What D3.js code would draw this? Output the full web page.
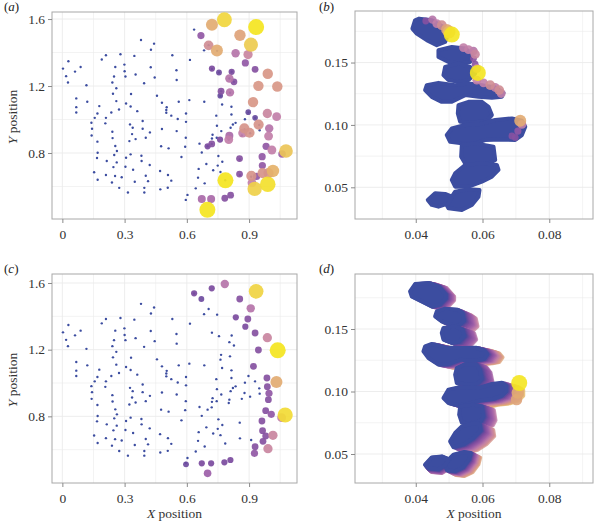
<!DOCTYPE html>
<html><head><meta charset="utf-8">
<script src="https://cdn.jsdelivr.net/npm/d3@7"></script>
<style>body{margin:0;background:#fff}svg{display:block}</style>
</head><body>
<svg id="chart" width="595" height="521"></svg>
<script>
// ---------- data: panels (a) and (c), particle positions ----------
const basePts = [
[0.379,1.475],[0.442,1.453],[0.427,1.417],[0.530,1.384],[0.029,1.348],[0.003,1.304],[0.018,1.259],[0.027,1.221],[0.061,1.286],[0.088,1.314],[0.116,1.205],[0.190,1.358],[0.210,1.384],[0.280,1.390],[0.347,1.380],[0.255,1.314],[0.299,1.328],[0.300,1.288],[0.304,1.257],[0.249,1.257],[0.241,1.221],[0.260,1.187],[0.244,1.154],[0.353,1.269],[0.394,1.217],[0.426,1.312],[0.445,1.251],[0.551,1.236],[0.331,1.152],
[0.067,1.126],[0.120,1.106],[0.067,1.074],[0.067,1.042],[0.178,1.080],[0.169,1.036],[0.260,1.110],[0.273,1.060],[0.307,1.096],[0.329,1.078],[0.361,1.050],[0.236,1.042],[0.456,1.142],[0.480,1.100],[0.503,1.073],[0.501,1.057],[0.501,1.040],[0.525,1.023],
[0.156,1.010],[0.210,1.010],[0.140,0.981],[0.207,0.977],[0.143,0.945],[0.141,0.905],[0.169,0.868],[0.326,0.971],[0.339,0.951],[0.387,0.991],[0.387,0.945],[0.480,0.943],[0.336,0.913],[0.241,0.927],[0.242,0.889],[0.323,0.871],[0.353,0.883],[0.402,0.891],[0.422,0.923],[0.255,0.842],[0.263,0.812],[0.250,0.788],[0.170,0.802],[0.167,0.770],[0.214,0.752],[0.246,0.716],[0.262,0.744],[0.307,0.772],[0.329,0.792],[0.381,0.784],[0.382,0.752],[0.421,0.728],[0.476,0.840],[0.512,0.828],[0.341,0.700],[0.304,0.718],[0.153,0.685],[0.210,0.669],[0.254,0.663],[0.286,0.655],[0.170,0.640],[0.239,0.624],[0.274,0.592],[0.316,0.564],[0.349,0.628],[0.402,0.664],[0.413,0.632],[0.395,0.592],[0.395,0.564],[0.471,0.693],[0.472,0.583],[0.509,0.669],[0.525,0.635],[0.508,0.593],
[0.635,1.537],[0.683,1.413],[0.615,1.356],[0.550,1.294],[0.561,1.106],[0.612,1.116],[0.684,1.106],[0.596,1.036],[0.770,1.090],[0.815,1.076],[0.742,1.023],
[0.705,1.444],[0.746,1.410],[0.721,1.302],[0.755,1.281],[0.816,1.285],[0.805,1.245],[0.827,1.225],[0.765,1.169],[0.762,1.140],[0.808,1.160],[0.897,1.042],
[0.556,1.003],[0.551,0.931],[0.595,0.891],[0.574,0.776],[0.596,0.986],[0.592,0.837],[0.661,0.856],[0.672,0.803],[0.815,1.030],[0.835,0.980],[0.822,0.970],[0.811,0.951],[0.745,0.963],[0.766,0.931],[0.724,0.909],[0.721,0.887],[0.744,0.891],[0.752,0.782],[0.771,0.748],[0.749,0.725],[0.694,0.734],[0.727,0.697],[0.762,0.687],[0.657,0.705],[0.654,0.653],[0.686,0.619],[0.643,0.589],[0.603,0.550],[0.595,0.520],[0.700,0.840],[0.720,0.854],
[0.855,0.762],[0.856,0.668],[0.910,0.658],[0.929,1.010],[0.949,0.968],[0.951,0.936],[0.905,0.918],[0.878,0.940],[0.865,0.905],[0.880,1.002],[0.805,0.900],[0.802,0.880],[0.785,0.637]
];
// highlighted particles [x, y, value] in panel (a)
const hotA = [
[0.781,1.596,0.93],[0.721,1.566,0.75],[0.934,1.552,1.0],[0.856,1.503,0.7],[0.909,1.447,0.88],[0.705,1.443,0.55],[0.745,1.412,0.75],
[0.990,1.273,0.62],[0.945,1.201,0.62],[1.036,1.197,0.62],[0.919,1.104,0.62],[0.988,1.036,0.5],[1.033,1.017,0.45],
[0.721,1.304,0.15],[0.755,1.281,0.12],[0.816,1.285,0.15],[0.827,1.225,0.2],[0.765,1.169,0.2],[0.761,1.142,0.1],[0.896,1.044,0.1],
[0.929,1.300,0.2],[0.882,1.338,0.25],[0.668,1.501,0.25],[0.805,1.245,0.4],[0.808,1.162,0.4],[0.835,1.396,0.4],[0.895,1.388,0.5],
[0.720,0.854,0.2],[0.760,0.880,0.15],[0.805,0.903,0.35],[0.802,0.880,0.45],[0.854,0.767,0.2],[0.854,0.674,0.2],[0.783,0.530,0.2],
[0.811,0.548,0.2],[0.672,0.526,0.35],[0.717,0.526,0.35],[0.700,0.840,0.15],[0.982,0.840,0.25],[0.963,0.778,0.25],[0.964,0.725,0.25],
[1.059,0.794,0.3],[0.936,0.660,0.25],[0.914,0.622,0.45],[0.929,1.010,0.1],[0.997,0.947,0.4],[0.994,0.901,0.45],[1.010,0.818,0.45],
[0.946,0.970,0.6],[0.877,0.947,0.6],[0.902,0.921,0.6],[0.869,0.919,0.45],[0.911,0.663,0.6],[0.965,0.680,0.6],[0.994,0.680,0.6],
[1.015,0.693,0.78],[0.786,0.637,1.0],[0.699,0.461,1.0],[0.927,0.586,0.9],[0.990,0.614,0.97],[1.078,0.812,0.85]
];
// highlighted particles [x, y, value] in panel (c)
const hotC = [
[0.783,1.594,0.4],[0.934,1.550,0.92],[0.720,1.568,0.15],[0.635,1.538,0.15],[0.670,1.504,0.12],[0.855,1.504,0.2],[0.908,1.448,0.4],
[0.836,1.394,0.15],[0.894,1.384,0.2],[0.882,1.338,0.15],[0.929,1.300,0.2],[0.988,1.272,0.5],[0.945,1.198,0.2],[1.038,1.196,1.0],
[0.921,1.100,0.2],[0.986,1.030,0.2],[1.032,1.006,0.75],[0.988,0.978,0.2],[0.996,0.938,0.25],[0.993,0.900,0.2],[1.057,0.792,0.45],
[1.074,0.808,0.95],[0.980,0.834,0.2],[1.007,0.812,0.25],[0.962,0.772,0.2],[0.965,0.714,0.2],[1.015,0.686,0.5],[0.980,0.682,0.2],
[0.967,0.650,0.2],[0.991,0.606,0.5],[0.929,0.618,0.2],[0.926,0.578,0.25],[0.781,0.524,0.15],[0.810,0.538,0.15],[0.717,0.518,0.15],
[0.672,0.518,0.15],[0.700,0.458,0.3],[0.596,0.512,0.12]
];
// ---------- data: panels (b) and (d), cell outlines ----------
const blobsB = [
[[0.0398,0.1839],[0.0410,0.1852],[0.0448,0.1839],[0.0483,0.1785],[0.0498,0.1732],[0.0488,0.1665],[0.0463,0.1639],[0.0433,0.1679],[0.0403,0.1732],[0.0390,0.1772]],
[[0.0468,0.1599],[0.0508,0.1625],[0.0548,0.1612],[0.0568,0.1572],[0.0563,0.1505],[0.0533,0.1492],[0.0498,0.1505],[0.0468,0.1545]],
[[0.0488,0.1465],[0.0528,0.1492],[0.0563,0.1465],[0.0578,0.1412],[0.0558,0.1359],[0.0528,0.1345],[0.0498,0.1359],[0.0483,0.1399]],
[[0.0433,0.1319],[0.0468,0.1337],[0.0518,0.1319],[0.0558,0.1332],[0.0598,0.1319],[0.0638,0.1300],[0.0663,0.1257],[0.0658,0.1225],[0.0628,0.1217],[0.0588,0.1225],[0.0548,0.1239],[0.0508,0.1185],[0.0478,0.1185],[0.0448,0.1225],[0.0428,0.1279]],
[[0.0528,0.1159],[0.0558,0.1185],[0.0598,0.1185],[0.0618,0.1145],[0.0628,0.1079],[0.0613,0.1033],[0.0568,0.1017],[0.0533,0.1025],[0.0526,0.1092]],
[[0.0508,0.0972],[0.0548,0.0999],[0.0593,0.1007],[0.0638,0.1039],[0.0688,0.1052],[0.0718,0.1033],[0.0728,0.0985],[0.0718,0.0919],[0.0698,0.0879],[0.0658,0.0884],[0.0608,0.0879],[0.0578,0.0852],[0.0538,0.0852],[0.0503,0.0865],[0.0493,0.0919]],
[[0.0538,0.0839],[0.0578,0.0852],[0.0633,0.0825],[0.0638,0.0719],[0.0618,0.0692],[0.0548,0.0692],[0.0536,0.0745]],
[[0.0548,0.0679],[0.0598,0.0692],[0.0643,0.0679],[0.0648,0.0639],[0.0628,0.0585],[0.0598,0.0545],[0.0558,0.0505],[0.0518,0.0505],[0.0508,0.0559],[0.0518,0.0612]],
[[0.0518,0.0465],[0.0558,0.0484],[0.0591,0.0479],[0.0588,0.0425],[0.0568,0.0359],[0.0538,0.0319],[0.0498,0.0332],[0.0490,0.0372],[0.0508,0.0425]],
[[0.0436,0.0399],[0.0458,0.0452],[0.0488,0.0447],[0.0508,0.0425],[0.0498,0.0372],[0.0468,0.0345],[0.0448,0.0359]]
];
const hotB = [
[0.0430,0.1833,0.2],[0.0450,0.1844,0.4],[0.0463,0.1812,0.45],[0.0478,0.1799,0.55],[0.0493,0.1764,0.7],[0.0500,0.1745,0.8],[0.0508,0.1724,1.0],
[0.0543,0.1620,0.45],[0.0558,0.1604,0.45],[0.0573,0.1593,0.4],[0.0578,0.1567,0.5],[0.0573,0.1532,0.2],
[0.0578,0.1487,0.2],[0.0583,0.1452,0.45],[0.0586,0.1417,1.0],
[0.0583,0.1359,0.45],[0.0603,0.1337,0.45],[0.0623,0.1319,0.55],[0.0638,0.1300,0.45],[0.0650,0.1279,0.55],[0.0656,0.1252,0.45],
[0.0688,0.0911,0.2],[0.0698,0.0900,0.2],[0.0706,0.0951,0.25],[0.0718,0.1004,0.45],[0.0713,0.1033,0.75]
];
const blobsD = [
[[0.0383,0.1801],[0.0398,0.1860],[0.0438,0.1868],[0.0468,0.1841],[0.0490,0.1775],[0.0490,0.1745],[0.0472,0.1695],[0.0448,0.1680],[0.0418,0.1721],[0.0388,0.1761]],
[[0.0463,0.1641],[0.0488,0.1663],[0.0525,0.1655],[0.0540,0.1628],[0.0545,0.1565],[0.0530,0.1530],[0.0508,0.1535],[0.0478,0.1561],[0.0458,0.1601]],
[[0.0483,0.1508],[0.0518,0.1521],[0.0540,0.1495],[0.0546,0.1445],[0.0530,0.1398],[0.0508,0.1390],[0.0483,0.1415],[0.0478,0.1468]],
[[0.0428,0.1361],[0.0448,0.1380],[0.0488,0.1353],[0.0538,0.1348],[0.0580,0.1350],[0.0605,0.1330],[0.0615,0.1298],[0.0605,0.1260],[0.0585,0.1250],[0.0560,0.1245],[0.0535,0.1255],[0.0498,0.1218],[0.0468,0.1215],[0.0438,0.1268],[0.0423,0.1321]],
[[0.0523,0.1188],[0.0548,0.1220],[0.0580,0.1218],[0.0592,0.1175],[0.0598,0.1100],[0.0585,0.1062],[0.0556,0.1055],[0.0523,0.1068],[0.0518,0.1135]],
[[0.0498,0.1015],[0.0528,0.1033],[0.0588,0.1028],[0.0628,0.1060],[0.0658,0.1070],[0.0672,0.1045],[0.0672,0.1001],[0.0658,0.0965],[0.0632,0.0940],[0.0595,0.0928],[0.0558,0.0903],[0.0528,0.0888],[0.0498,0.0908],[0.0483,0.0948]],
[[0.0533,0.0881],[0.0572,0.0895],[0.0598,0.0881],[0.0603,0.0800],[0.0595,0.0760],[0.0558,0.0745],[0.0538,0.0752],[0.0530,0.0815]],
[[0.0538,0.0721],[0.0577,0.0748],[0.0592,0.0738],[0.0595,0.0688],[0.0572,0.0625],[0.0545,0.0578],[0.0513,0.0555],[0.0503,0.0601],[0.0518,0.0668]],
[[0.0513,0.0495],[0.0545,0.0516],[0.0565,0.0508],[0.0560,0.0455],[0.0542,0.0392],[0.0518,0.0362],[0.0493,0.0370],[0.0488,0.0415],[0.0503,0.0468]],
[[0.0428,0.0415],[0.0448,0.0473],[0.0478,0.0481],[0.0498,0.0460],[0.0488,0.0410],[0.0468,0.0378],[0.0438,0.0386]]
];
// trail for each cell in (d): [dx, dy, max value]
const trailsD = [
[0.0025,-0.0015,0.45],[0.0040,-0.0045,0.5],[0.0035,-0.0030,0.4],[0.0045,-0.0025,0.7],[0.0032,-0.0025,0.35],
[0.0050,-0.0035,0.8],[0.0036,-0.0030,0.45],[0.0040,-0.0045,0.6],[0.0028,-0.0038,0.7],[0.0010,-0.0030,0.4]
];
const hotD = [[0.0702,0.0935,0.7],[0.0705,0.0990,0.75],[0.0710,0.1068,1.0]];

// ---------- axes ----------
const ticksAX = [0, 0.3, 0.6, 0.9], labelsAX = ["0", "0.3", "0.6", "0.9"];
const ticksAY = [0.8, 1.2, 1.6], labelsAY = ["0.8", "1.2", "1.6"];
const minorAX = [0.15, 0.45, 0.75, 1.05], minorAY = [0.6, 1.0, 1.4];
const ticksBX = [0.04, 0.06, 0.08], labelsBX = ["0.04", "0.06", "0.08"];
const ticksBY = [0.05, 0.10, 0.15], labelsBY = ["0.05", "0.10", "0.15"];
const minorBX = [0.03, 0.05, 0.07, 0.09], minorBY = [0.075, 0.125, 0.175];

const svg = d3.select("#chart");
const FONT = "'Liberation Serif','Times New Roman',serif";
const colorScale = d3.scaleLinear()
  .domain([0, 0.15, 0.3, 0.45, 0.6, 0.75, 0.9, 1])
  .range(["#3b4a9c", "#7b4b9e", "#9c5ea8", "#c27fa9", "#d6948a", "#e2ab72", "#efd04a", "#f4e520"]);
const rScale = d3.scaleLinear().domain([0, 0.1, 0.2, 0.4, 0.6, 0.75, 1])
  .range([1.2, 2.8, 3.4, 4.2, 5.1, 6, 8]).clamp(true);
const BLUE = "#3c4da0";

function panel(id, box, xDom, yDom, xt, xl, yt, yl, xm, ym) {
  const x = d3.scaleLinear().domain(xDom).range([box.l, box.r]);
  const y = d3.scaleLinear().domain(yDom).range([box.b, box.t]);
  const g = svg.append("g");
  g.append("clipPath").attr("id", "clip" + id).append("rect")
    .attr("x", box.l).attr("y", box.t).attr("width", box.r - box.l).attr("height", box.b - box.t);
  const grid = g.append("g").attr("stroke", "#ebebeb");
  grid.selectAll(".vx").data(xm.concat(xt)).join("line")
    .attr("x1", d => x(d)).attr("x2", d => x(d)).attr("y1", box.t).attr("y2", box.b)
    .attr("stroke-width", (d, i) => i < xm.length ? 0.6 : 0.9);
  grid.selectAll(".hy").data(ym.concat(yt)).join("line")
    .attr("y1", d => y(d)).attr("y2", d => y(d)).attr("x1", box.l).attr("x2", box.r)
    .attr("stroke-width", (d, i) => i < ym.length ? 0.6 : 0.9);
  g.append("rect").attr("x", box.l).attr("y", box.t).attr("width", box.r - box.l).attr("height", box.b - box.t)
    .attr("fill", "none").attr("stroke", "#a8a8a8").attr("stroke-width", 1);
  const ax = g.append("g").attr("transform", `translate(0,${box.b})`)
    .call(d3.axisBottom(x).tickValues(xt).tickFormat((d, i) => xl[i]).tickSize(4).tickPadding(6));
  const ay = g.append("g").attr("transform", `translate(${box.l},0)`)
    .call(d3.axisLeft(y).tickValues(yt).tickFormat((d, i) => yl[i]).tickSize(4).tickPadding(3));
  [ax, ay].forEach(a => {
    a.select(".domain").remove();
    a.selectAll(".tick line").attr("stroke", "#8a8a8a");
    a.selectAll(".tick text").attr("font-family", FONT).attr("font-size", 13.5).attr("fill", "#333");
  });
  const plot = g.append("g").attr("clip-path", `url(#clip${id})`);
  return {x, y, plot};
}

function label(txt, px, py) {
  const t = svg.append("text").attr("x", px).attr("y", py).attr("font-family", FONT).attr("font-size", 13).attr("fill", "#222");
  t.append("tspan").text("(");
  t.append("tspan").attr("font-style", "italic").text(txt);
  t.append("tspan").text(")");
}
function yTitle(cy) {
  const t = svg.append("text").attr("transform", `translate(17,${cy}) rotate(-90)`).attr("text-anchor", "middle")
    .attr("font-family", FONT).attr("font-size", 13.5).attr("fill", "#333");
  t.append("tspan").attr("font-style", "italic").text("Y");
  t.append("tspan").text(" position");
}
function xTitle(cx) {
  const t = svg.append("text").attr("x", cx).attr("y", 518).attr("text-anchor", "middle")
    .attr("font-family", FONT).attr("font-size", 13.5).attr("fill", "#333");
  t.append("tspan").attr("font-style", "italic").text("X");
  t.append("tspan").text(" position");
}

function scatter(p, hot) {
  p.plot.append("g").selectAll("circle").data(basePts).join("circle")
    .attr("cx", d => p.x(d[0])).attr("cy", d => p.y(d[1])).attr("r", rScale(0)).attr("fill", BLUE);
  const h = hot.slice().sort((a, b) => a[2] - b[2]);
  p.plot.append("g").selectAll("circle").data(h).join("circle")
    .attr("cx", d => p.x(d[0])).attr("cy", d => p.y(d[1])).attr("r", d => rScale(d[2]))
    .attr("fill", d => colorScale(d[2])).attr("fill-opacity", 0.92);
}

function cells(p, blobs, trails, hot) {
  const line = d3.line().x(d => p.x(d[0])).y(d => p.y(d[1])).curve(d3.curveLinearClosed);
  if (trails) {
    const N = 12;
    blobs.forEach((b, i) => {
      const tr = trails[i];
      for (let k = N; k >= 1; k--) {
        const f = k / N;
        const shifted = b.map(q => [q[0] + tr[0] * f, q[1] + tr[1] * f]);
        p.plot.append("path").attr("d", line(shifted))
          .attr("fill", colorScale(tr[2] * f)).attr("stroke", colorScale(tr[2] * f))
          .attr("stroke-width", 4).attr("stroke-linejoin", "round").attr("opacity", 0.8);
      }
    });
  }
  p.plot.append("g").selectAll("path").data(blobs).join("path")
    .attr("d", d => line(d)).attr("fill", BLUE).attr("stroke", BLUE)
    .attr("stroke-width", 4).attr("stroke-linejoin", "round");
  const h = hot.slice().sort((a, b) => a[2] - b[2]);
  p.plot.append("g").selectAll("circle").data(h).join("circle")
    .attr("cx", d => p.x(d[0])).attr("cy", d => p.y(d[1])).attr("r", d => rScale(d[2]))
    .attr("fill", d => colorScale(d[2])).attr("fill-opacity", 0.9);
}

const pA = panel("a", {l: 52, r: 297, t: 12, b: 219}, [-0.05, 1.131], [0.406, 1.642], ticksAX, labelsAX, ticksAY, labelsAY, minorAX, minorAY);
scatter(pA, hotA);
const pB = panel("b", {l: 355, r: 593, t: 11, b: 219}, [0.0218, 0.0931], [0.0246, 0.1913], ticksBX, labelsBX, ticksBY, labelsBY, minorBX, minorBY);
cells(pB, blobsB, null, hotB);
const pC = panel("c", {l: 52, r: 297, t: 274, b: 483}, [-0.05, 1.131], [0.400, 1.654], ticksAX, labelsAX, ticksAY, labelsAY, minorAX, minorAY);
scatter(pC, hotC);
const pD = panel("d", {l: 355, r: 593, t: 274, b: 483}, [0.0218, 0.0931], [0.0268, 0.194], ticksBX, labelsBX, ticksBY, labelsBY, minorBX, minorBY);
cells(pD, blobsD, trailsD, hotD);

label("a", 4, 11); label("b", 319, 11); label("c", 4, 273); label("d", 319, 273);
yTitle(117); yTitle(380);
xTitle(174.5); xTitle(474);
</script>
</body></html>
